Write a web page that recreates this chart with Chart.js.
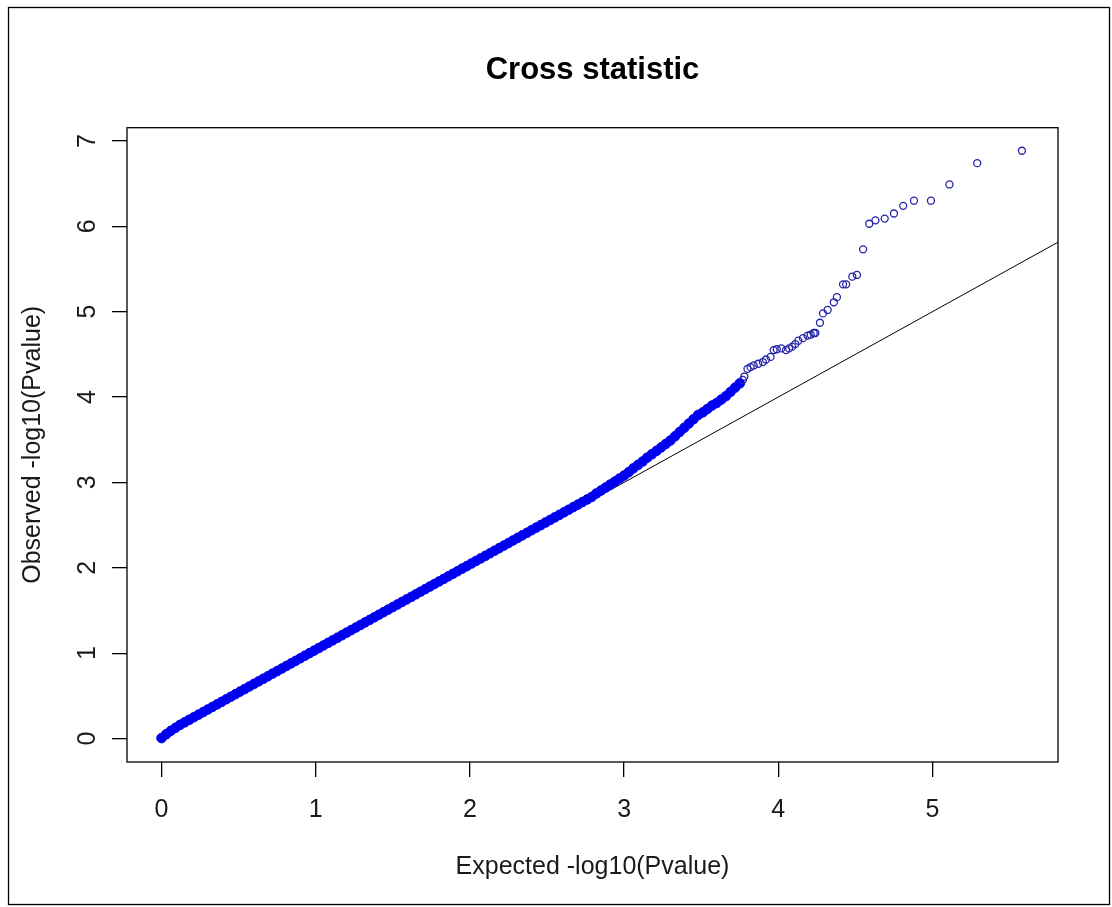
<!DOCTYPE html>
<html>
<head>
<meta charset="utf-8">
<title>Cross statistic</title>
<script src="https://cdn.jsdelivr.net/npm/chart.js@4.4.1/dist/chart.umd.min.js"></script>
<style>
  html, body { margin: 0; padding: 0; background: #fff; }
  canvas { display: block; }
</style>
</head>
<body>
<canvas id="qqChart" width="1112" height="907"></canvas>
<script>
// QQ plot of the cross statistic: expected vs observed -log10(p)

const xTickValues = [0, 1, 2, 3, 4, 5];
const yTickValues = [0, 1, 2, 3, 4, 5, 6, 7];
const xRange = [-0.224, 5.814];
const yRange = [-0.275, 7.155];

// dense part of the cloud (reads as a solid band)
const bandExpected = [
  0.00, 0.03, 0.06, 0.09, 0.12, 0.15, 0.18, 0.21, 0.24, 0.27, 0.30, 0.33, 0.36, 0.39, 0.42, 0.45,
  0.48, 0.51, 0.54, 0.57, 0.60, 0.63, 0.66, 0.69, 0.72, 0.75, 0.78, 0.81, 0.84, 0.87, 0.90, 0.93,
  0.96, 0.99, 1.02, 1.05, 1.08, 1.11, 1.14, 1.17, 1.20, 1.23, 1.26, 1.29, 1.32, 1.35, 1.38, 1.41,
  1.44, 1.47, 1.50, 1.53, 1.56, 1.59, 1.62, 1.65, 1.68, 1.71, 1.74, 1.77, 1.80, 1.83, 1.86, 1.89,
  1.92, 1.95, 1.98, 2.01, 2.04, 2.07, 2.10, 2.13, 2.16, 2.19, 2.22, 2.25, 2.28, 2.31, 2.34, 2.37,
  2.40, 2.43, 2.46, 2.49, 2.52, 2.55, 2.58, 2.61, 2.64, 2.67, 2.70, 2.73, 2.76, 2.79,
  2.82, 2.85, 2.88, 2.91, 2.94, 2.97, 3.00, 3.03, 3.06, 3.09, 3.12, 3.15, 3.18, 3.21, 3.24, 3.27,
  3.30, 3.33, 3.36, 3.39, 3.42, 3.45, 3.48, 3.51, 3.54, 3.57, 3.60, 3.63, 3.66, 3.69, 3.72, 3.75
];
const bandObserved = [
  0.005, 0.05, 0.09, 0.125, 0.16, 0.19, 0.22, 0.25, 0.28, 0.31, 0.34, 0.37, 0.40, 0.43, 0.46, 0.49,
  0.52, 0.55, 0.58, 0.61, 0.64, 0.67, 0.70, 0.73, 0.76, 0.79, 0.82, 0.85, 0.88, 0.91, 0.94, 0.97,
  1.00, 1.03, 1.06, 1.09, 1.12, 1.15, 1.18, 1.21, 1.24, 1.27, 1.30, 1.33, 1.36, 1.39, 1.42, 1.45,
  1.48, 1.51, 1.54, 1.57, 1.60, 1.63, 1.66, 1.69, 1.72, 1.75, 1.78, 1.81, 1.84, 1.87, 1.90, 1.93,
  1.96, 1.99, 2.02, 2.05, 2.08, 2.11, 2.14, 2.17, 2.20, 2.23, 2.26, 2.29, 2.32, 2.35, 2.38, 2.41,
  2.44, 2.47, 2.50, 2.53, 2.56, 2.59, 2.62, 2.65, 2.68, 2.71, 2.74, 2.77, 2.80, 2.83,
  2.87, 2.905, 2.94, 2.975, 3.01, 3.045, 3.08, 3.12, 3.165, 3.205, 3.245, 3.29, 3.33, 3.37, 3.41, 3.45,
  3.49, 3.54, 3.59, 3.64, 3.69, 3.74, 3.79, 3.82, 3.86, 3.90, 3.93, 3.97, 4.01, 4.06, 4.11, 4.16
];

// sparse tail, single open circles
const tailExpected = [
  3.77, 3.78, 3.80, 3.82, 3.84, 3.87, 3.90, 3.92, 3.95, 3.97, 3.99, 4.02, 4.05, 4.07, 4.09, 4.11,
  4.13, 4.16, 4.19, 4.21, 4.23, 4.24, 4.27, 4.29, 4.32, 4.36, 4.38, 4.42, 4.44, 4.48, 4.51, 4.55,
  4.59, 4.63, 4.69, 4.75, 4.81, 4.88, 4.99, 5.11, 5.29, 5.58
];
const tailObserved = [
  4.20, 4.24, 4.33, 4.35, 4.37, 4.39, 4.41, 4.44, 4.47, 4.55, 4.56, 4.57, 4.55, 4.57, 4.59, 4.62,
  4.66, 4.69, 4.72, 4.73, 4.75, 4.75, 4.87, 4.98, 5.02, 5.11, 5.17, 5.32, 5.32, 5.41, 5.43, 5.73,
  6.03, 6.07, 6.09, 6.15, 6.24, 6.30, 6.30, 6.49, 6.74, 6.885
];

// expected = observed reference line, from the origin out past the right edge
const refLineX = [0, 6.5];

const FONT = '"Liberation Sans", Arial, Helvetica, sans-serif';

const toPoints = (xs, ys) => xs.map((x, i) => ({ x: x, y: ys[i] }));

// box, rotated y labels and the outer frame, like base R graphics
const rBase = {
  id: 'rBase',
  afterDraw(chart) {
    const { ctx, chartArea: a, scales } = chart;
    ctx.save();
    ctx.strokeStyle = '#000';
    ctx.lineWidth = 1.3;
    ctx.strokeRect(a.left, a.top, a.right - a.left, a.bottom - a.top);

    ctx.fillStyle = '#1a1a1a';
    ctx.font = '25px ' + FONT;
    ctx.textAlign = 'center';
    ctx.textBaseline = 'middle';
    yTickValues.forEach(v => {
      const y = scales.y.getPixelForValue(v);
      ctx.save();
      ctx.translate(a.left - 39, y);
      ctx.rotate(-Math.PI / 2);
      ctx.fillText(String(v), 0, 0);
      ctx.restore();
    });

    ctx.lineWidth = 1.3;
    ctx.strokeRect(8.5, 7.5, chart.width - 11, chart.height - 10);
    ctx.restore();
  }
};

new Chart(document.getElementById('qqChart'), {
  type: 'scatter',
  data: {
    datasets: [
      {
        label: 'tail',
        data: toPoints(tailExpected, tailObserved),
        pointStyle: 'circle',
        pointRadius: 3.5,
        borderWidth: 1.3,
        borderColor: '#2222a8',
        backgroundColor: 'rgba(0,0,0,0)'
      },
      {
        label: 'band',
        data: toPoints(bandExpected, bandObserved),
        pointStyle: 'circle',
        pointRadius: 4.8,
        borderWidth: 1,
        borderColor: '#0000f0',
        backgroundColor: '#0000f0'
      },
      {
        label: 'y = x',
        type: 'line',
        data: refLineX.map(x => ({ x: x, y: x })),
        showLine: true,
        pointRadius: 0,
        borderColor: '#000',
        borderWidth: 1
      }
    ]
  },
  options: {
    responsive: false,
    animation: false,
    events: [],
    layout: { padding: { left: 0, top: 0, right: 54, bottom: 0 } },
    plugins: {
      legend: { display: false },
      tooltip: { enabled: false },
      title: {
        display: true,
        text: 'Cross statistic',
        fullSize: false,
        color: '#000',
        font: { family: FONT, size: 31, weight: 'bold' },
        padding: { top: 52, bottom: 38.5 }
      }
    },
    scales: {
      x: {
        type: 'linear',
        min: xRange[0],
        max: xRange[1],
        afterBuildTicks: s => { s.ticks = xTickValues.map(v => ({ value: v })); },
        afterFit: s => { s.height = 145; },
        grid: { drawOnChartArea: false, drawTicks: true, tickLength: 15, color: '#000', lineWidth: 1.3 },
        border: { display: false },
        ticks: {
          color: '#1a1a1a',
          font: { family: FONT, size: 25 },
          padding: 18,
          maxRotation: 0,
          autoSkip: false
        },
        title: {
          display: true,
          text: 'Expected -log10(Pvalue)',
          color: '#1a1a1a',
          font: { family: FONT, size: 25 },
          padding: { top: 0, bottom: 25 }
        }
      },
      y: {
        type: 'linear',
        min: yRange[0],
        max: yRange[1],
        afterBuildTicks: s => { s.ticks = yTickValues.map(v => ({ value: v })); },
        afterFit: s => { s.width = 127; },
        grid: { drawOnChartArea: false, drawTicks: true, tickLength: 15, color: '#000', lineWidth: 1.3 },
        border: { display: false },
        ticks: { display: false },
        title: {
          display: true,
          text: 'Observed -log10(Pvalue)',
          color: '#1a1a1a',
          font: { family: FONT, size: 25 },
          padding: { top: 18, bottom: 0 }
        }
      }
    }
  },
  plugins: [rBase]
});
</script>
</body>
</html>
